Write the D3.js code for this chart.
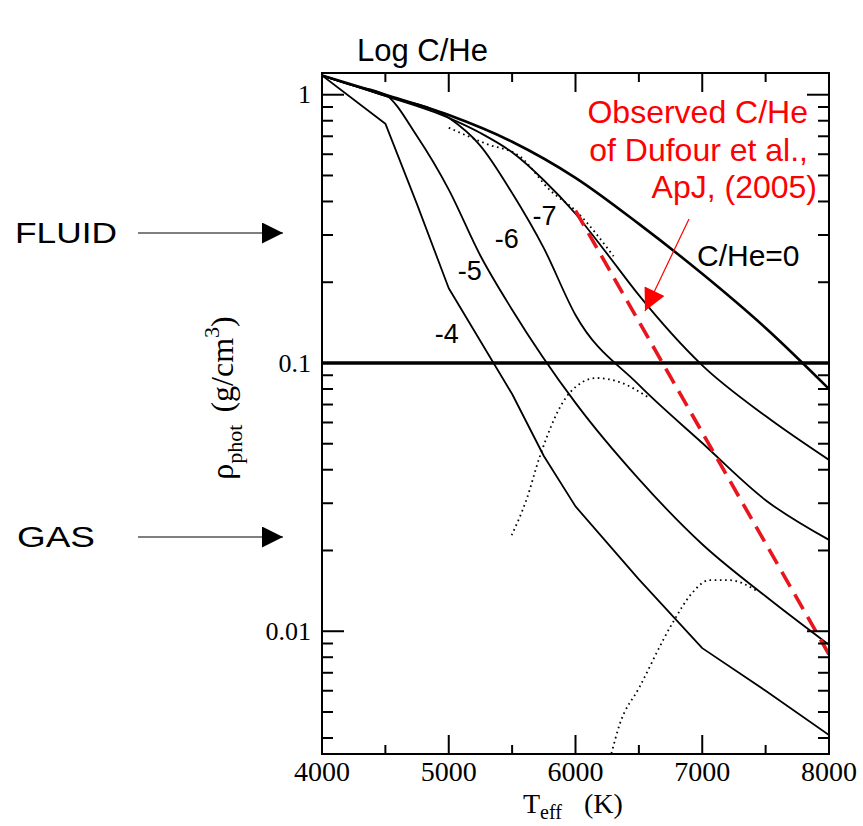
<!DOCTYPE html>
<html>
<head>
<meta charset="utf-8">
<script src="https://cdn.jsdelivr.net/npm/d3@7"></script>
<style>
  body { margin: 0; background: #fff; }
  text { font-family: "Liberation Sans", Arial, sans-serif; }
  text.serif { font-family: "Liberation Serif", "Times New Roman", serif; }
</style>
</head>
<body>
<script>
// ---- data (Teff in K, rho_phot in g/cm^3) ----
const teffGrid = [4000, 4500, 5000, 5500, 6000, 6500, 7000, 7500, 8000];

// log C/He = -inf (C/He = 0), thick line
const rhoZero = [1.18, 1.0, 0.84, 0.668, 0.49, 0.33, 0.215, 0.135, 0.08];

const tM7 = [4000, 4500, 5000, 5250, 5500, 5750, 6000, 6250, 6500, 7000, 7500, 8000];
const rhoM7 = [1.18, 0.99, 0.82, 0.72, 0.61, 0.48, 0.36, 0.255, 0.179, 0.098, 0.0634, 0.0435];

const tM6 = [4000, 4500, 5000, 5250, 5500, 5750, 6000, 6500, 7000, 7500, 8000];
const rhoM6 = [1.18, 0.99, 0.82, 0.645, 0.43, 0.268, 0.151, 0.0828, 0.0503, 0.0308, 0.0219];

const tM5 = [4000, 4250, 4500, 4750, 5000, 5250, 5500, 6000, 6500, 7000, 7500, 8000];
const rhoM5 = [1.18, 1.08, 1.0, 0.7, 0.443, 0.251, 0.158, 0.071, 0.0369, 0.0211, 0.0135, 0.0089];

// -4 has sharp bends, drawn as straight segments
const tM4 = [4000, 4500, 4750, 5000, 5500, 5750, 6000, 6500, 7000, 7500, 8000];
const rhoM4 = [1.18, 0.78, 0.39, 0.19, 0.0766, 0.045, 0.0292, 0.0156, 0.00865, 0.006, 0.0041];

// dotted boundary curves
const tDot1 = [5000, 5300, 5559, 5800, 6000, 6300];
const rhoDot1 = [0.753, 0.655, 0.59, 0.44, 0.37, 0.25];
const tDot2 = [5496, 5614, 5717, 5953, 6165, 6346, 6583];
const rhoDot2 = [0.0228, 0.031, 0.0446, 0.0773, 0.0879, 0.0849, 0.074];
const tDot3 = [6283, 6346, 6504, 6764, 6921, 7055, 7213, 7425];
const rhoDot3 = [0.0035, 0.00446, 0.00618, 0.0107, 0.0139, 0.0155, 0.0155, 0.0142];

// observed C/He of Dufour et al. (red dashed)
const tObs = [6000, 8000];
const rhoObs = [0.37, 0.0082];

// curve labels (log C/He)
const curveLabels = ["-4", "-5", "-6", "-7"];
const labelT = [4985, 5165, 5457, 5756];
const labelRho = [0.129, 0.222, 0.292, 0.354];

// ticks
const xMajor = [4000, 5000, 6000, 7000, 8000];
const xMinor = [4500, 5500, 6500, 7500];
const yMajor = [0.01, 0.1, 1];
const yMajorLabels = ["0.01", "0.1", "1"];
const yMinor = [0.004, 0.005, 0.006, 0.007, 0.008, 0.009,
                0.02, 0.03, 0.04, 0.05, 0.06, 0.07, 0.08, 0.09,
                0.2, 0.3, 0.4, 0.5, 0.6, 0.7, 0.8, 0.9];
const gasLimit = 0.1;

// ---- layout ----
const width = 863, height = 826;
const mLeft = 322, mRight = 829, mTop = 73, mBottom = 754;

const x = d3.scaleLinear([4000, 8000], [mLeft, mRight]);
const y = d3.scaleLog([0.003486, 1.205], [mBottom, mTop]);

const svg = d3.select("body").append("svg")
    .attr("width", width)
    .attr("height", height)
    .attr("viewBox", [0, 0, width, height]);

const defs = svg.append("defs");
defs.append("clipPath").attr("id", "plot-area")
    .append("rect")
    .attr("x", mLeft).attr("y", mTop)
    .attr("width", mRight - mLeft).attr("height", mBottom - mTop);

const zip = (ts, rs) => ts.map((t, i) => [t, rs[i]]);
const line = d3.line()
    .x(d => x(d[0]))
    .y(d => y(d[1]))
    .curve(d3.curveMonotoneX);
const straight = d3.line()
    .x(d => x(d[0]))
    .y(d => y(d[1]));

const plot = svg.append("g").attr("clip-path", "url(#plot-area)").attr("fill", "none");

// thick 0.1 line
plot.append("line")
    .attr("x1", mLeft).attr("x2", mRight)
    .attr("y1", y(gasLimit)).attr("y2", y(gasLimit))
    .attr("stroke", "#000").attr("stroke-width", 3.5);

// dotted curves
[[tDot1, rhoDot1], [tDot2, rhoDot2], [tDot3, rhoDot3]].forEach(([ts, rs]) => {
    plot.append("path")
        .attr("d", line(zip(ts, rs)))
        .attr("stroke", "#000")
        .attr("stroke-width", 1.8)
        .attr("stroke-dasharray", "1.6,3.6");
});

// solid curves
[[tM5, rhoM5], [tM6, rhoM6], [tM7, rhoM7]].forEach(([ts, rs]) => {
    plot.append("path")
        .attr("d", line(zip(ts, rs)))
        .attr("stroke", "#000")
        .attr("stroke-width", 1.8)
        .attr("stroke-linejoin", "round");
});
plot.append("path")
    .attr("d", straight(zip(tM4, rhoM4)))
    .attr("stroke", "#000")
    .attr("stroke-width", 1.8)
    .attr("stroke-linejoin", "round");

plot.append("path")
    .attr("d", line(zip(teffGrid, rhoZero)))
    .attr("stroke", "#000")
    .attr("stroke-width", 2.6);

// observed, red dashed
plot.append("path")
    .attr("d", straight(zip(tObs, rhoObs)))
    .attr("stroke", "#e8161c")
    .attr("stroke-width", 3.6)
    .attr("stroke-dasharray", "17,9");

// ---- ticks, all pointing inward ----
const tickG = svg.append("g").attr("stroke", "#000").attr("stroke-width", 2);
const xTicks = (vals, len) => {
    tickG.append("g").selectAll("line").data(vals).join("line")
        .attr("x1", d => x(d)).attr("x2", d => x(d))
        .attr("y1", mBottom).attr("y2", mBottom - len);
    tickG.append("g").selectAll("line").data(vals).join("line")
        .attr("x1", d => x(d)).attr("x2", d => x(d))
        .attr("y1", mTop).attr("y2", mTop + len);
};
const yTicks = (vals, len) => {
    tickG.append("g").selectAll("line").data(vals).join("line")
        .attr("y1", d => y(d)).attr("y2", d => y(d))
        .attr("x1", mLeft).attr("x2", mLeft + len);
    tickG.append("g").selectAll("line").data(vals).join("line")
        .attr("y1", d => y(d)).attr("y2", d => y(d))
        .attr("x1", mRight).attr("x2", mRight - len);
};
xTicks(xMajor, 19);
xTicks(xMinor, 9);
yTicks(yMajor, 22);
yTicks(yMinor, 11);

svg.append("rect")
    .attr("x", mLeft).attr("y", mTop)
    .attr("width", mRight - mLeft).attr("height", mBottom - mTop)
    .attr("fill", "none").attr("stroke", "#000").attr("stroke-width", 2);

// tick labels
svg.append("g")
    .attr("font-size", 28)
    .attr("text-anchor", "middle")
    .selectAll("text").data(xMajor).join("text")
    .attr("class", "serif")
    .attr("x", d => x(d))
    .attr("y", mBottom + 27)
    .text(d => d);

svg.append("g")
    .attr("font-size", 26)
    .attr("text-anchor", "end")
    .selectAll("text").data(yMajor).join("text")
    .attr("class", "serif")
    .attr("x", mLeft - 11)
    .attr("y", d => y(d))
    .attr("dy", "0.33em")
    .text((d, i) => yMajorLabels[i]);

// axis titles
svg.append("text")
    .attr("class", "serif")
    .attr("x", 523).attr("y", 813)
    .attr("font-size", 28)
    .call(t => {
        t.append("tspan").text("T");
        t.append("tspan").attr("font-size", 20).attr("dy", 6).text("eff");
        t.append("tspan").attr("dy", -6).attr("dx", 15).text(" (K)");
    });

svg.append("text")
    .attr("class", "serif")
    .attr("transform", "translate(233,398) rotate(-90)")
    .attr("text-anchor", "middle")
    .attr("font-size", 32)
    .call(t => {
        t.append("tspan").text("ρ");
        t.append("tspan").attr("font-size", 22).attr("dy", 9).text("phot");
        t.append("tspan").attr("dy", -9).attr("dx", 4).text(" (g/cm");
        t.append("tspan").attr("font-size", 22).attr("dy", -14).text("3");
        t.append("tspan").attr("dy", 14).text(")");
    });

svg.append("text")
    .attr("x", 357).attr("y", 61)
    .attr("font-size", 31)
    .text("Log C/He");

// curve labels
svg.append("g")
    .attr("font-size", 27)
    .attr("text-anchor", "middle")
    .selectAll("text")
    .data(curveLabels)
    .join("text")
    .attr("x", (d, i) => x(labelT[i]))
    .attr("y", (d, i) => y(labelRho[i]))
    .attr("dy", "0.35em")
    .text(d => d);

svg.append("text")
    .attr("x", 697).attr("y", 266)
    .attr("font-size", 30)
    .text("C/He=0");

// observed annotation
const red = "#fe0000";
svg.append("g")
    .attr("fill", red)
    .attr("font-size", 32)
    .attr("text-anchor", "end")
    .selectAll("text")
    .data(["Observed C/He", "of Dufour et al.,", "ApJ, (2005)"])
    .join("text")
    .attr("x", (d, i) => i === 2 ? 817 : 808)
    .attr("y", (d, i) => 123 + i * 37.5)
    .text(d => d);

defs.append("marker")
    .attr("id", "redhead")
    .attr("viewBox", "0 0 10 10")
    .attr("refX", 10).attr("refY", 5)
    .attr("markerUnits", "userSpaceOnUse")
    .attr("markerWidth", 30).attr("markerHeight", 22)
    .attr("orient", "auto")
    .append("path").attr("d", "M0,0L10,5L0,10Z").attr("fill", red);
defs.append("marker")
    .attr("id", "blackhead")
    .attr("viewBox", "0 0 10 10")
    .attr("refX", 10).attr("refY", 5)
    .attr("markerUnits", "userSpaceOnUse")
    .attr("markerWidth", 34).attr("markerHeight", 21)
    .attr("orient", "auto")
    .append("path").attr("d", "M0,0L10,5L0,10Z").attr("fill", "#000");

svg.append("line")
    .attr("x1", 689).attr("y1", 219)
    .attr("x2", 645).attr("y2", 311)
    .attr("stroke", red).attr("stroke-width", 1.2)
    .attr("marker-end", "url(#redhead)");

// FLUID / GAS arrows
[["FLUID", 233, 15, 102], ["GAS", 537, 17, 78]].forEach(([label, yy, tx, tw]) => {
    svg.append("text")
        .attr("x", tx).attr("y", yy + 10)
        .attr("font-size", 30)
        .attr("textLength", tw)
        .attr("lengthAdjust", "spacingAndGlyphs")
        .text(label);
    svg.append("line")
        .attr("x1", 138).attr("x2", 283)
        .attr("y1", yy).attr("y2", yy)
        .attr("stroke", "#000").attr("stroke-width", 1.2)
        .attr("marker-end", "url(#blackhead)");
});
</script>
</body>
</html>
